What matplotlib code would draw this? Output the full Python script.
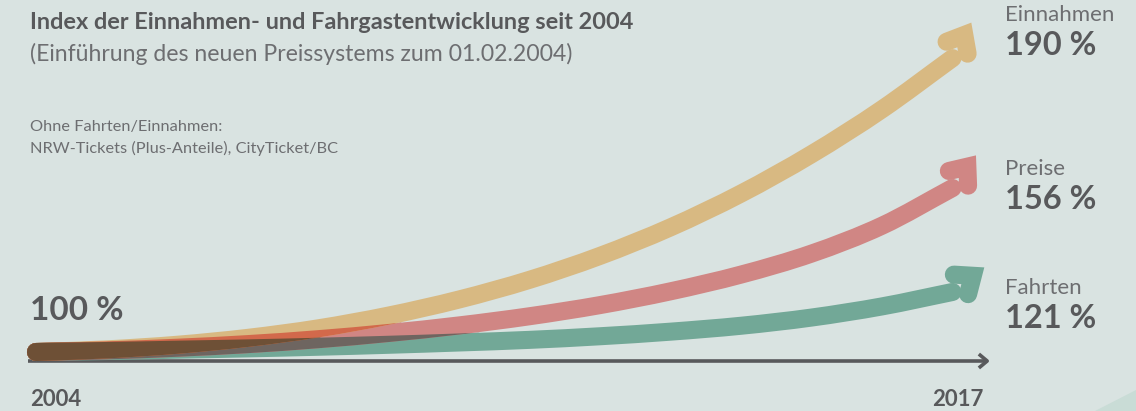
import numpy as np
import matplotlib
matplotlib.use('Agg')
import matplotlib.pyplot as plt
from matplotlib.colors import to_rgb
from matplotlib.patches import Polygon, PathPatch
from matplotlib.path import Path

# data (index, 2004 = 100)
years = np.arange(2004, 2018)
einnahmen = [100, 100.8, 102.2, 104.3, 107.2, 111.1, 116.0, 122.0, 129.3, 138.0, 148.3, 160.3, 174.0, 189.6]
preise = [100, 100.5, 101.3, 102.4, 103.9, 105.8, 108.1, 110.9, 114.3, 118.5, 123.6, 130.0, 138.5, 150.0]
fahrten = [100, 100.3, 100.7, 101.1, 101.6, 102.2, 102.9, 103.7, 104.8, 106.2, 108.0, 110.5, 113.9, 118.3]
series_names = ['Einnahmen', 'Preise', 'Fahrten']
end_labels = ['190 %', '156 %', '121 %']
start_label = '100 %'
year_labels = ['2004', '2017']

title = 'Index der Einnahmen- und Fahrgastentwicklung seit 2004'
subtitle = '(Einführung des neuen Preissystems zum 01.02.2004)'
note = 'Ohne Fahrten/Einnahmen:\nNRW-Tickets (Plus-Anteile), CityTicket/BC'

# styling
W, H = 1136, 411
BG = '#d9e3e1'
DARK = '#58595b'
GREY = '#6d6e71'
colors = {'Einnahmen': '#d8b982', 'Preise': '#d08684', 'Fahrten': '#72a897'}
overlap_colors = {'rg': '#6e6560', 'yg': '#7b7452', 'yr': '#d2694b', 'yrg': '#6e5036'}
LW = 13
FONT = 'Lato'

# pixel layout: 2004 at x=36, index 100 at y=352 (from top)
px_year = 70.5
px_pt = 3.28
xlim = (2004 - 36 / px_year, 2004 + (W - 36) / px_year)
ylim = (100 - (H - 352) / px_pt, 100 + 352 / px_pt)


def setup_axes(fig):
    ax = fig.add_axes([0, 0, 1, 1])
    ax.set_xlim(xlim)
    ax.set_ylim(ylim)
    ax.axis('off')
    return ax


def smooth_path(xs, ys):
    """Catmull-Rom curve through the points, as cubic Bezier segments."""
    p = np.column_stack([xs, ys]).astype(float)
    p = np.vstack([2 * p[0] - p[1], p, 2 * p[-1] - p[-2]])
    verts = [p[1]]
    codes = [Path.MOVETO]
    for i in range(1, len(p) - 2):
        c1 = p[i] + (p[i + 1] - p[i - 1]) / 6
        c2 = p[i + 1] - (p[i + 2] - p[i]) / 6
        verts += [c1, c2, p[i + 1]]
        codes += [Path.CURVE4] * 3
    return Path(verts, codes)


def curve_patch(xs, ys, color, zorder=2):
    return PathPatch(smooth_path(xs, ys), fill=False, lw=LW, edgecolor=color,
                     capstyle='round', joinstyle='round', zorder=zorder)


def stroke_mask(xs, ys):
    """Render one curve alone and return its coverage mask."""
    f = plt.figure(figsize=(W / 100, H / 100), dpi=100)
    f.patch.set_alpha(0)
    a = setup_axes(f)
    a.add_patch(curve_patch(xs, ys, 'k'))
    f.canvas.draw()
    m = np.asarray(f.canvas.buffer_rgba())[:, :, 3] / 255.0
    plt.close(f)
    return m


def draw_head(ax, xs, ys, color):
    """Chevron arrow head after the end of a curve, in pixel space."""
    tr = ax.transData
    p1 = tr.transform((xs[-2], ys[-2]))
    p2 = tr.transform((xs[-1], ys[-1]))
    d = np.degrees(np.arctan2(p2[1] - p1[1], p2[0] - p1[0]))
    unit = lambda a: np.array([np.cos(np.radians(a)), np.sin(np.radians(a))])
    tip = p2 + 26 * unit(d + 27)
    back = d + 180
    pts = np.array([tip + 19 * unit(back - 15), tip, tip + 19 * unit(back + 64)])
    pts = tr.inverted().transform(pts)
    ax.plot(pts[:, 0], pts[:, 1], lw=LW, color=color,
            solid_capstyle='round', solid_joinstyle='miter', zorder=4)


fig = plt.figure(figsize=(W / 100, H / 100), dpi=100, facecolor=BG)
ax = setup_axes(fig)

# decorative band in the lower right corner
ax.add_patch(Polygon([(1095 / W, 0), (1136 / W, 21 / H), (1, 0)], closed=True,
                     transform=ax.transAxes, facecolor='#c9dcd6', edgecolor='none', zorder=0))

# time axis with arrow
y_axis = 100 - (361 - 352) / px_pt
ax.annotate('', xy=(2004 + (990 - 36) / px_year, y_axis), xytext=(2004 - 8 / px_year, y_axis),
            arrowprops=dict(arrowstyle='->,head_length=0.6,head_width=0.5', color=DARK,
                            lw=2.6, shrinkA=0, shrinkB=0, capstyle='butt'), zorder=1)

series = {'Einnahmen': einnahmen, 'Preise': preise, 'Fahrten': fahrten}
for name in ['Fahrten', 'Preise', 'Einnahmen']:
    ax.add_patch(curve_patch(years, series[name], colors[name]))
    draw_head(ax, years, series[name], colors[name])

# darker tones where the curves run over each other
my = stroke_mask(years, einnahmen)
mr = stroke_mask(years, preise)
mg = stroke_mask(years, fahrten)
layers = [(np.minimum(mr, mg), overlap_colors['rg']),
          (np.minimum(my, mg), overlap_colors['yg']),
          (np.minimum(my, mr), overlap_colors['yr']),
          (np.minimum(np.minimum(my, mr), mg), overlap_colors['yrg'])]
rgb = np.zeros(my.shape + (3,))
alpha = np.zeros(my.shape)
for a_, c in layers:
    rgb = rgb * (1 - a_[..., None]) + np.array(to_rgb(c)) * a_[..., None]
    alpha = alpha * (1 - a_) + a_
rgb = np.where(alpha[..., None] > 0, rgb / np.maximum(alpha, 1e-6)[..., None], 0)
ax.imshow(np.dstack([rgb, alpha]), extent=(xlim[0], xlim[1], ylim[0], ylim[1]),
          origin='upper', aspect='auto', interpolation='nearest', zorder=3)
ax.set_xlim(xlim)
ax.set_ylim(ylim)


def put(x, y, s, **kw):
    fig.text(x / W, 1 - y / H, s, va='baseline', family=FONT, **kw)


put(30, 29, title, fontsize=16.9, fontweight='bold', color=DARK)
put(30, 61, subtitle, fontsize=16.6, color=GREY)
put(30, 131, note.split('\n')[0], fontsize=11.8, color=GREY)
put(30, 153, note.split('\n')[1], fontsize=11.8, color=GREY)

put(30, 320, start_label, fontsize=24, fontweight='bold', color=DARK)
put(30, 406, year_labels[0], fontsize=16, fontweight='bold', color=DARK)
put(932, 406, year_labels[1], fontsize=16, fontweight='bold', color=DARK)

name_base = [21, 175, 294]
value_base = [55, 209, 328]
for name, lab, yb, yv in zip(series_names, end_labels, name_base, value_base):
    put(1005, yb, name, fontsize=16, color=GREY)
    put(1005, yv, lab, fontsize=23.5, fontweight='bold', color=DARK)

fig.savefig('out.png', dpi=100, facecolor=BG)
